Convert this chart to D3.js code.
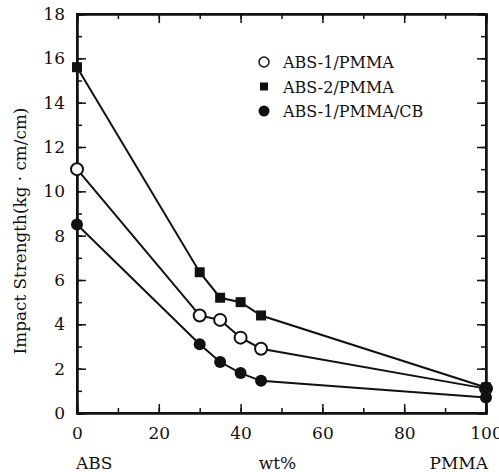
<!DOCTYPE html>
<html>
<head>
<meta charset="utf-8">
<script src="https://cdn.jsdelivr.net/npm/d3@7"></script>
<style>
  body { margin: 0; background: #fff; }
</style>
</head>
<body>
<div id="chart"></div>
<script>
// blend composition (wt% PMMA)
var wt = [0, 30, 35, 40, 45, 100];
var abs1 = [11.0, 4.4, 4.2, 3.4, 2.9, 1.1];
var abs2 = [15.6, 6.35, 5.2, 5.0, 4.4, 1.15];
var abs1cb = [8.5, 3.1, 2.3, 1.8, 1.45, 0.7];
var seriesNames = ["ABS-1/PMMA", "ABS-2/PMMA", "ABS-1/PMMA/CB"];
var xTicks = [0, 20, 40, 60, 80, 100];
var yTicks = [0, 2, 4, 6, 8, 10, 12, 14, 16, 18];

var FONT = "DejaVu Serif, serif";

var width = 499, height = 472;
var margin = {top: 14, right: 13, bottom: 59, left: 77};
var w = width - margin.left - margin.right,
    h = height - margin.top - margin.bottom;

var svg = d3.select("#chart").append("svg")
    .attr("width", width)
    .attr("height", height)
    .attr("font-family", FONT);

var g = svg.append("g")
    .attr("transform", "translate(" + margin.left + "," + margin.top + ")");

var x = d3.scaleLinear().domain([0, 100]).range([0, w]);
var y = d3.scaleLinear().domain([0, 18]).range([h, 0]);

// inward ticks on all four sides
var minorX = d3.range(0, 101, 10), minorY = d3.range(0, 19, 1);

g.append("g").attr("transform", "translate(0," + h + ")")
    .call(d3.axisBottom(x).tickValues(minorX).tickSize(-5).tickFormat(""));
g.append("g").attr("transform", "translate(0," + h + ")")
    .call(d3.axisBottom(x).tickValues(xTicks).tickSize(-9).tickPadding(14)
      .tickFormat(d3.format("d")));
g.append("g")
    .call(d3.axisTop(x).tickValues(minorX).tickSize(-5).tickFormat(""));
g.append("g")
    .call(d3.axisTop(x).tickValues(xTicks).tickSize(-9).tickFormat(""));

g.append("g")
    .call(d3.axisLeft(y).tickValues(minorY).tickSize(-5).tickFormat(""));
g.append("g")
    .call(d3.axisLeft(y).tickValues(yTicks).tickSize(-9).tickPadding(12)
      .tickFormat(d3.format("d")));
g.append("g").attr("transform", "translate(" + w + ",0)")
    .call(d3.axisRight(y).tickValues(minorY).tickSize(-5).tickFormat(""));
g.append("g").attr("transform", "translate(" + w + ",0)")
    .call(d3.axisRight(y).tickValues(yTicks).tickSize(-9).tickFormat(""));

g.selectAll(".domain").attr("stroke", "#111").attr("stroke-width", 2);
g.selectAll(".tick line").attr("stroke", "#111").attr("stroke-width", 1.5);
g.selectAll(".tick text").style("font-size", "17px").attr("fill", "#111");

g.append("rect").attr("width", w).attr("height", h)
    .attr("fill", "none").attr("stroke", "#111").attr("stroke-width", 2);

// axis labels
var ytitle = svg.append("text")
    .attr("transform", "translate(26,231) rotate(-90)")
    .attr("text-anchor", "middle")
    .style("font-family", FONT)
    .style("font-size", "18px")
    .text("Impact Strength(kg · cm/cm)");
// scale the font so the title spans about as long as in the figure
var tl = ytitle.node().getComputedTextLength();
ytitle.style("font-size", (18 * 247 / tl) + "px");

svg.append("text").attr("x", 76).attr("y", 469)
    .style("font-size", "17px").text("ABS");
svg.append("text").attr("x", margin.left + x(49)).attr("y", 469)
    .attr("text-anchor", "middle").style("font-size", "17px").text("wt%");
svg.append("text").attr("x", margin.left + w + 2).attr("y", 469)
    .attr("text-anchor", "end").style("font-size", "17px").text("PMMA");

// series lines
var all = [abs1, abs2, abs1cb];
var line = d3.line()
    .x(function(d, i) { return x(wt[i]); })
    .y(function(d) { return y(d); });

g.selectAll(".series").data(all).enter().append("path")
    .attr("d", line)
    .attr("fill", "none")
    .attr("stroke", "#111")
    .attr("stroke-width", 2);

// markers
function drawMarker(sel, kind) {
  if (kind === 0) {
    sel.append("circle").attr("r", 6).attr("fill", "#fff")
      .attr("stroke", "#111").attr("stroke-width", 2);
  } else if (kind === 1) {
    sel.append("rect").attr("x", -5).attr("y", -5).attr("width", 10).attr("height", 10)
      .attr("fill", "#111");
  } else {
    sel.append("circle").attr("r", 6).attr("fill", "#111");
  }
}

all.forEach(function(vals, k) {
  vals.forEach(function(v, i) {
    var m = g.append("g").attr("transform", "translate(" + x(wt[i]) + "," + y(v) + ")");
    drawMarker(m, k);
  });
});

// legend
var legend = svg.append("g").attr("transform", "translate(264,62)");
seriesNames.forEach(function(name, k) {
  var row = legend.append("g").attr("transform", "translate(0," + (k * 24.5) + ")");
  var m = row.append("g");
  if (k === 0) {
    m.append("circle").attr("r", 5).attr("fill", "#fff").attr("stroke", "#111").attr("stroke-width", 1.5);
  } else if (k === 1) {
    m.append("rect").attr("x", -4).attr("y", -4).attr("width", 8).attr("height", 8).attr("fill", "#111");
  } else {
    m.append("circle").attr("r", 5.5).attr("fill", "#111");
  }
  row.append("text").attr("x", 19).attr("y", 6).style("font-size", "16px").text(name);
});

// make sure every label (axes included) uses the serif face
svg.selectAll("text").attr("font-family", FONT).style("font-family", FONT).attr("fill", "#111");
</script>
</body>
</html>
